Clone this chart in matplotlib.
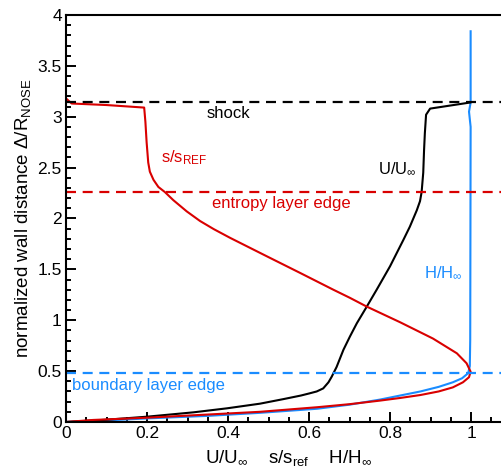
"""Shock-layer profiles: velocity, entropy and total enthalpy vs wall distance."""

import matplotlib

matplotlib.use("Agg")
import matplotlib.pyplot as plt
from matplotlib.ticker import MultipleLocator

plt.rcParams["font.family"] = ["Liberation Sans", "DejaVu Sans"]
plt.rcParams["mathtext.fontset"] = "custom"
plt.rcParams["mathtext.rm"] = "Liberation Sans"
plt.rcParams["mathtext.it"] = "Liberation Sans:italic"

RED = "#d90000"
BLUE = "#1a8cff"

# s/s_ref profile, from the shock down to the wall
s_x = [0.0, 0.014, 0.10, 0.193, 0.196, 0.199, 0.203, 0.207, 0.216, 0.228, 0.244,
       0.265, 0.298, 0.331, 0.365, 0.405, 0.495, 0.578, 0.66, 0.701, 0.742, 0.825,
       0.906, 0.965, 0.989, 0.999, 0.995, 0.98, 0.955, 0.92, 0.875, 0.825,
       0.775, 0.70, 0.62, 0.479, 0.2, 0.067, 0.0]
s_y = [3.18, 3.13, 3.115, 3.09, 2.95, 2.75, 2.55, 2.46, 2.38, 2.31, 2.26,
       2.18, 2.07, 1.975, 1.895, 1.81, 1.63, 1.465, 1.30, 1.22, 1.135, 0.98,
       0.82, 0.675, 0.577, 0.494, 0.44, 0.39, 0.34, 0.30, 0.265, 0.236,
       0.21, 0.175, 0.145, 0.10, 0.042, 0.02, 0.0]

# U/U_inf profile, wall to shock
u_x = [0.0, 0.1, 0.2, 0.315, 0.397, 0.479, 0.537, 0.58, 0.60, 0.619, 0.635,
       0.648, 0.656, 0.668, 0.685, 0.701, 0.718, 0.742, 0.767, 0.80, 0.833,
       0.849, 0.866, 0.874, 0.878, 0.882, 0.884, 0.886, 0.889, 0.899, 0.998]
u_y = [0.0, 0.022, 0.052, 0.095, 0.134, 0.18, 0.225, 0.26, 0.28, 0.30, 0.33,
       0.39, 0.445, 0.54, 0.71, 0.84, 0.97, 1.13, 1.30, 1.53, 1.79,
       1.92, 2.08, 2.17, 2.26, 2.45, 2.67, 2.84, 3.02, 3.08, 3.14]

# H/H_inf profile, wall to freestream
h_x = [0.0, 0.1, 0.2, 0.35, 0.479, 0.62, 0.70, 0.775, 0.825, 0.875, 0.92,
       0.955, 0.978, 0.993, 0.997, 0.998, 0.999, 0.995, 0.999, 0.999]
h_y = [0.0, 0.015, 0.035, 0.06, 0.09, 0.13, 0.17, 0.22, 0.26, 0.30, 0.345,
       0.39, 0.43, 0.48, 0.55, 0.81, 2.90, 3.05, 3.14, 3.84]

shock_y = 3.14
entropy_edge_y = 2.26
bl_edge_y = 0.48

fig = plt.figure(figsize=(5.02, 4.67), dpi=100)
ax = fig.add_axes([0.1315, 0.0964, 0.8875, 0.8715])

ax.plot(h_x, h_y, color=BLUE, linewidth=1.5)
ax.plot(u_x, u_y, color="black", linewidth=1.5)
ax.plot(s_x, s_y, color=RED, linewidth=1.5)

dash = (4.5, 3)
ax.axhline(shock_y, color="black", linewidth=1.6, dashes=dash)
ax.axhline(entropy_edge_y, color=RED, linewidth=1.6, dashes=dash)
ax.axhline(bl_edge_y, color=BLUE, linewidth=1.6, dashes=dash)

ax.text(0.346, 3.03, "shock", color="black", fontsize=12, va="center")
ax.text(0.235, 2.60, "s/s$_{\\mathrm{REF}}$", color=RED, fontsize=12, va="center")
ax.text(0.36, 2.15, "entropy layer edge", color=RED, fontsize=12, va="center")
ax.text(0.77, 2.49, "U/U$_{\\infty}$", color="black", fontsize=12, va="center")
ax.text(0.884, 1.47, "H/H$_{\\infty}$", color=BLUE, fontsize=12, va="center")
ax.text(0.016, 0.36, "boundary layer edge", color=BLUE, fontsize=12, va="center")

ax.set_xlim(0, 1.1)
ax.set_ylim(0, 4)
ax.xaxis.set_major_locator(MultipleLocator(0.2))
ax.xaxis.set_minor_locator(MultipleLocator(0.05))
ax.yaxis.set_major_locator(MultipleLocator(0.5))
ax.yaxis.set_minor_locator(MultipleLocator(0.1))
ax.xaxis.set_major_formatter(lambda v, p: f"{v:g}")
ax.yaxis.set_major_formatter(lambda v, p: f"{v:g}")
ax.tick_params(which="both", direction="in", top=False, right=False, width=1.4,
               labelsize=12.5)
ax.tick_params(which="major", length=7, pad=3)
ax.tick_params(which="minor", length=3.5)
for spine in ax.spines.values():
    spine.set_linewidth(1.5)

ax.set_xlabel("U/U$_{\\infty}$    s/s$_{\\mathrm{ref}}$    H/H$_{\\infty}$", fontsize=13.5,
              labelpad=5)
ax.set_ylabel("normalized wall distance $\\Delta$/R$_{\\mathrm{NOSE}}$", fontsize=13.5,
              labelpad=3)

fig.savefig("out.png", dpi=100)
plt.close(fig)
